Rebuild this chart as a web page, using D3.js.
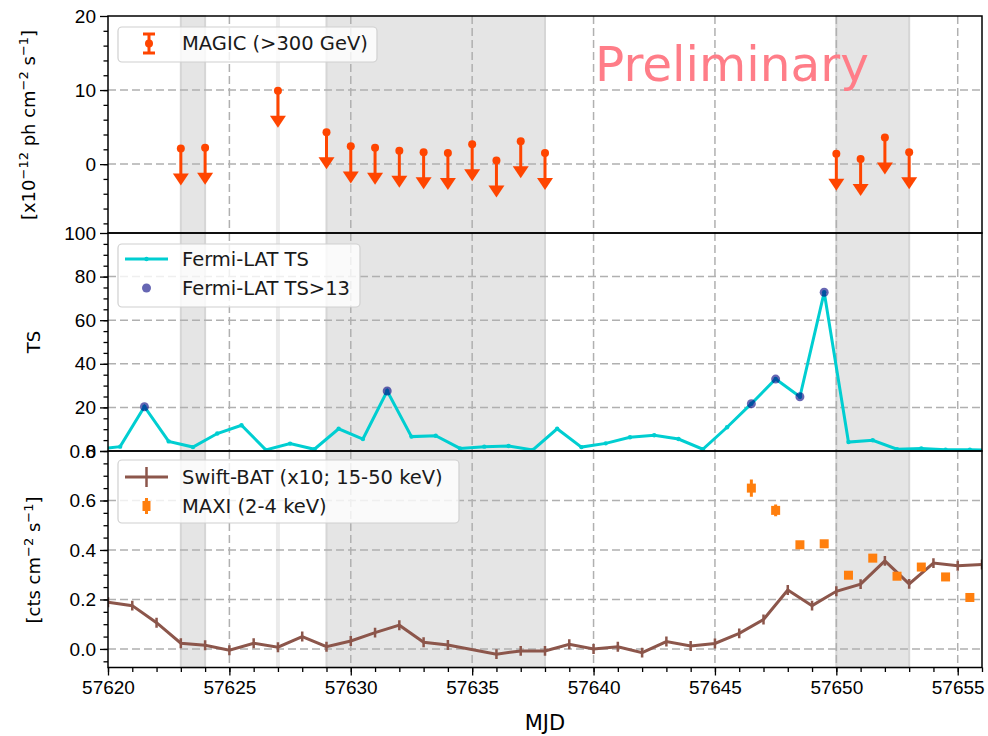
<!DOCTYPE html>
<html>
<head>
<meta charset="utf-8">
<script src="https://cdn.jsdelivr.net/npm/d3@7"></script>
<style>
body { margin: 0; background: #fff; }
svg { font-family: "DejaVu Sans", sans-serif; }
.grid line { stroke: #b0b0b0; stroke-width: 1.5; stroke-dasharray: 8,4; }
.axis text { font-size: 19px; fill: #000; }
.axis line { stroke: #000; stroke-width: 1.3; }
.axis .domain { display: none; }
.leg { font-size: 19.5px; fill: #1a1a1a; }
</style>
</head>
<body>
<svg width="988" height="736"></svg>
<script>
// MAGIC upper limits (x10^-12 ph cm^-2 s^-1)
var magicDays = [57623, 57624, 57627, 57629, 57630, 57631, 57632, 57633, 57634, 57635, 57636, 57637, 57638, 57650, 57651, 57652, 57653];
var magicUL   = [2.1, 2.2, 9.9, 4.3, 2.4, 2.2, 1.8, 1.6, 1.5, 2.7, 0.5, 3.1, 1.5, 1.4, 0.7, 3.6, 1.6];

// Fermi-LAT TS, daily bins
var fermiDays = [57619.5, 57620.5, 57621.5, 57622.5, 57623.5, 57624.5, 57625.5, 57626.5, 57627.5, 57628.5, 57629.5,
                 57630.5, 57631.5, 57632.5, 57633.5, 57634.5, 57635.5, 57636.5, 57637.5, 57638.5, 57639.5,
                 57640.5, 57641.5, 57642.5, 57643.5, 57644.5, 57645.5, 57646.5, 57647.5, 57648.5, 57649.5,
                 57650.5, 57651.5, 57652.5, 57653.5, 57654.5, 57655.5, 57656.5];
var fermiTS   = [0.8, 2.0, 20.3, 4.4, 1.8, 8.0, 11.8, 0.5, 3.4, 0.8, 10.2,
                 5.5, 27.5, 6.6, 7.0, 1.2, 2.0, 2.3, 0.5, 10.2, 1.8,
                 3.5, 6.3, 7.2, 5.5, 0.8, 10.9, 21.7, 33.0, 24.9, 72.8,
                 4.1, 4.9, 0.8, 1.2, 0.6, 0.6, 0.4];
var sigDays = [57621.5, 57631.5, 57646.5, 57647.5, 57648.5, 57649.5];
var sigTS   = [20.3, 27.5, 21.7, 33.0, 24.9, 72.8];

// Swift-BAT (x10) rate
var batDays = [57620, 57621, 57622, 57623, 57624, 57625, 57626, 57627, 57628, 57629, 57630, 57631, 57632, 57633, 57634,
               57636, 57637, 57638, 57639, 57640, 57641, 57642, 57643, 57644, 57645, 57646, 57647, 57648, 57649,
               57650, 57651, 57652, 57653, 57654, 57655, 57656];
var batRate = [0.189, 0.175, 0.106, 0.023, 0.015, -0.005, 0.023, 0.007, 0.05, 0.009, 0.032, 0.066, 0.096, 0.027, 0.016,
               -0.021, -0.008, -0.008, 0.019, 0.0, 0.009, -0.015, 0.03, 0.012, 0.022, 0.063, 0.119, 0.238, 0.175,
               0.233, 0.262, 0.356, 0.263, 0.347, 0.336, 0.341];
var batErr = 0.02;

// MAXI rate
var maxiDays = [57646.5, 57647.5, 57648.5, 57649.5, 57650.5, 57651.5, 57652.5, 57653.5, 57654.5, 57655.5];
var maxiRate = [0.650, 0.560, 0.421, 0.425, 0.298, 0.367, 0.294, 0.331, 0.291, 0.208];
var maxiErr  = [0.035, 0.024, 0.012, 0.012, 0.01, 0.01, 0.01, 0.01, 0.01, 0.01];

// MAGIC observation windows
var spanStart = [57623, 57629, 57650];
var spanEnd   = [57624, 57638, 57653];
var markDays  = [57627];

// ticks
var xTicks = [57620, 57625, 57630, 57635, 57640, 57645, 57650, 57655];
var xMinor = d3.range(57620, 57657, 1);
var magicTicks = [0, 10, 20];
var magicMinor = d3.range(-8, 20, 2);
var tsTicks = [0, 20, 40, 60, 80, 100];
var tsMinor = d3.range(0, 100, 5);
var rateTicks = [0.0, 0.2, 0.4, 0.6, 0.8];
var rateMinor = d3.range(-0.05, 0.8, 0.05);

var svg = d3.select("svg");
var left = 108, right = 982;

var x = d3.scaleLinear().domain([57620, 57656]).range([left, right]);

var yMagic = d3.scaleLinear().domain([-9.3, 20]).range([233, 16]);
var yTS    = d3.scaleLinear().domain([0, 100]).range([451, 233]);
var yRate  = d3.scaleLinear().domain([-0.075, 0.8]).range([667.5, 451]);

var red = "#ff4500", cyan = "#00ced1", brown = "#8c564b", orange = "#ff7f0e";

// one panel: spans, grid, axes, clip
function panel(name, y, major, minor, fmt) {
    var top = y.range()[1], bot = y.range()[0];
    var g = svg.append("g").attr("class", "panel " + name);

    g.append("clipPath").attr("id", "clip-" + name)
        .append("rect")
        .attr("x", left).attr("y", top)
        .attr("width", right - left).attr("height", bot - top);

    g.selectAll("rect.span")
        .data(spanStart)
        .enter().append("rect")
        .attr("class", "span")
        .attr("x", function(d) { return x(d); })
        .attr("y", top)
        .attr("width", function(d, i) { return x(spanEnd[i]) - x(d); })
        .attr("height", bot - top)
        .attr("fill", "#e5e5e5")
        .attr("stroke", "#d6d6d6")
        .attr("stroke-width", 2);

    g.selectAll("line.mark")
        .data(markDays)
        .enter().append("line")
        .attr("class", "mark")
        .attr("x1", function(d) { return x(d); })
        .attr("x2", function(d) { return x(d); })
        .attr("y1", top).attr("y2", bot)
        .attr("stroke", "#ebebeb")
        .attr("stroke-width", 4);

    //grid
    var grid = g.append("g").attr("class", "grid");
    grid.selectAll("line.gx")
        .data(xTicks.filter(function(d) { return d > 57620; }))
        .enter().append("line")
        .attr("x1", function(d) { return x(d); })
        .attr("x2", function(d) { return x(d); })
        .attr("y1", top).attr("y2", bot);
    grid.selectAll("line.gy")
        .data(major.filter(function(d) { return y(d) > top + 1 && y(d) < bot - 1; }))
        .enter().append("line")
        .attr("x1", left).attr("x2", right)
        .attr("y1", function(d) { return y(d); })
        .attr("y2", function(d) { return y(d); });

    //axis
    g.append("g")
        .attr("class", "axis")
        .attr("transform", "translate(" + left + ",0)")
        .call(d3.axisLeft(y).tickValues(minor).tickSize(4.5).tickFormat(""));
    g.append("g")
        .attr("class", "axis")
        .attr("transform", "translate(" + left + ",0)")
        .call(d3.axisLeft(y).tickValues(major).tickSize(8).tickPadding(4).tickFormat(fmt));

    return g;
}

var gMagic = panel("magic", yMagic, magicTicks, magicMinor, d3.format("d"));
var gTS    = panel("ts", yTS, tsTicks, tsMinor, d3.format("d"));
var gRate  = panel("rate", yRate, rateTicks, rateMinor, d3.format(".1f"));

// MAGIC upper limits
var ul = gMagic.append("g").attr("clip-path", "url(#clip-magic)");
ul.selectAll("line.ul")
    .data(magicDays)
    .enter().append("line")
    .attr("x1", function(d) { return x(d); })
    .attr("x2", function(d) { return x(d); })
    .attr("y1", function(d, i) { return yMagic(magicUL[i]); })
    .attr("y2", function(d, i) { return yMagic(magicUL[i] - 5) - 6; })
    .attr("stroke", red)
    .attr("stroke-width", 3);
ul.selectAll("path.head")
    .data(magicDays)
    .enter().append("path")
    .attr("d", function(d, i) {
        var cx = x(d), tip = yMagic(magicUL[i] - 5);
        return "M" + (cx - 8) + "," + (tip - 12) + "L" + (cx + 8) + "," + (tip - 12) + "L" + cx + "," + tip + "Z";
    })
    .attr("fill", red);
ul.selectAll("circle")
    .data(magicDays)
    .enter().append("circle")
    .attr("cx", function(d) { return x(d); })
    .attr("cy", function(d, i) { return yMagic(magicUL[i]); })
    .attr("r", 4)
    .attr("fill", red);

// Fermi TS
var line = d3.line()
    .x(function(d, i) { return x(fermiDays[i]); })
    .y(function(d) { return yTS(d); });
var fl = gTS.append("g").attr("clip-path", "url(#clip-ts)");
fl.append("path")
    .datum(fermiTS)
    .attr("d", line)
    .attr("fill", "none")
    .attr("stroke", cyan)
    .attr("stroke-width", 3);
fl.selectAll("circle.pt")
    .data(fermiTS)
    .enter().append("circle")
    .attr("cx", function(d, i) { return x(fermiDays[i]); })
    .attr("cy", function(d) { return yTS(d); })
    .attr("r", 2.2)
    .attr("fill", cyan);
fl.selectAll("circle.sig")
    .data(sigTS)
    .enter().append("circle")
    .attr("cx", function(d, i) { return x(sigDays[i]); })
    .attr("cy", function(d) { return yTS(d); })
    .attr("r", 4.5)
    .attr("fill", "#000080")
    .attr("fill-opacity", 0.6);

// Swift-BAT + MAXI
var bl = gRate.append("g").attr("clip-path", "url(#clip-rate)");
var batLine = d3.line()
    .x(function(d, i) { return x(batDays[i]); })
    .y(function(d) { return yRate(d); });
bl.append("path")
    .datum(batRate)
    .attr("d", batLine)
    .attr("fill", "none")
    .attr("stroke", brown)
    .attr("stroke-width", 3);
bl.selectAll("line.bat")
    .data(batRate)
    .enter().append("line")
    .attr("x1", function(d, i) { return x(batDays[i]); })
    .attr("x2", function(d, i) { return x(batDays[i]); })
    .attr("y1", function(d) { return yRate(d - batErr); })
    .attr("y2", function(d) { return yRate(d + batErr); })
    .attr("stroke", brown)
    .attr("stroke-width", 2.5);
bl.selectAll("line.maxi")
    .data(maxiRate)
    .enter().append("line")
    .attr("x1", function(d, i) { return x(maxiDays[i]); })
    .attr("x2", function(d, i) { return x(maxiDays[i]); })
    .attr("y1", function(d, i) { return yRate(d - maxiErr[i]); })
    .attr("y2", function(d, i) { return yRate(d + maxiErr[i]); })
    .attr("stroke", orange)
    .attr("stroke-width", 3);
bl.selectAll("rect.maxi")
    .data(maxiRate)
    .enter().append("rect")
    .attr("x", function(d, i) { return x(maxiDays[i]) - 4.5; })
    .attr("y", function(d) { return yRate(d) - 4.5; })
    .attr("width", 9)
    .attr("height", 9)
    .attr("fill", orange);

// frames
[yMagic, yTS, yRate].forEach(function(y) {
    svg.append("rect")
        .attr("x", left).attr("y", y.range()[1])
        .attr("width", right - left).attr("height", y.range()[0] - y.range()[1])
        .attr("fill", "none")
        .attr("stroke", "#000")
        .attr("stroke-width", 1.5);
});

// x axis
svg.append("g")
    .attr("class", "axis")
    .attr("transform", "translate(0," + yRate.range()[0] + ")")
    .call(d3.axisBottom(x).tickValues(xMinor).tickSize(4.5).tickFormat(""));
svg.append("g")
    .attr("class", "axis")
    .attr("transform", "translate(0," + yRate.range()[0] + ")")
    .call(d3.axisBottom(x).tickValues(xTicks).tickSize(8).tickPadding(5).tickFormat(d3.format("d")));

svg.append("text")
    .attr("x", (left + right) / 2)
    .attr("y", 730)
    .attr("text-anchor", "middle")
    .style("font-size", "21px")
    .text("MJD");

// y labels
function ylabel(cx, cy, parts) {
    var t = svg.append("text")
        .attr("transform", "translate(" + cx + "," + cy + ")rotate(-90)")
        .attr("text-anchor", "middle")
        .style("font-size", "18px");
    parts.forEach(function(p) {
        if (p[1]) {
            t.append("tspan").attr("dy", -7).style("font-size", "13px").text(p[0]);
        } else {
            t.append("tspan").attr("dy", p[2] || 0).text(p[0]);
        }
    });
}
ylabel(35, 125, [["[x10", 0], ["\u221212", 1], [" ph cm", 0, 7], ["\u22122", 1], [" s", 0, 7], ["\u22121", 1], ["]", 0, 7]]);
ylabel(40, 342, [["TS", 0]]);
ylabel(40, 560, [["[cts cm", 0], ["\u22122", 1], [" s", 0, 7], ["\u22121", 1], ["]", 0, 7]]);

// Preliminary
svg.append("text")
    .attr("x", 595)
    .attr("y", 81)
    .style("font-size", "48.5px")
    .attr("fill", "#ff7d88")
    .text("Preliminary");

// legends
function legendBox(x0, y0, w, h) {
    svg.append("rect")
        .attr("x", x0).attr("y", y0)
        .attr("width", w).attr("height", h)
        .attr("rx", 4)
        .attr("fill", "#fff").attr("fill-opacity", 0.8)
        .attr("stroke", "#d0d0d0").attr("stroke-width", 1.2);
}

legendBox(118, 27, 259, 35);
svg.append("line").attr("x1", 149).attr("x2", 149).attr("y1", 34).attr("y2", 53)
    .attr("stroke", red).attr("stroke-width", 3);
svg.append("line").attr("x1", 143).attr("x2", 155).attr("y1", 34).attr("y2", 34)
    .attr("stroke", red).attr("stroke-width", 3);
svg.append("line").attr("x1", 143).attr("x2", 155).attr("y1", 53).attr("y2", 53)
    .attr("stroke", red).attr("stroke-width", 3);
svg.append("circle").attr("cx", 149).attr("cy", 43.5).attr("r", 4).attr("fill", red);
svg.append("text").attr("class", "leg").attr("x", 182).attr("y", 50).text("MAGIC (>300 GeV)");

legendBox(118, 244, 242, 63);
svg.append("line").attr("x1", 125).attr("x2", 168).attr("y1", 259).attr("y2", 259)
    .attr("stroke", cyan).attr("stroke-width", 3);
svg.append("circle").attr("cx", 146.5).attr("cy", 259).attr("r", 2.2).attr("fill", cyan);
svg.append("text").attr("class", "leg").attr("x", 182).attr("y", 266).text("Fermi-LAT TS");
svg.append("circle").attr("cx", 146.5).attr("cy", 288).attr("r", 4.5)
    .attr("fill", "#000080").attr("fill-opacity", 0.6);
svg.append("text").attr("class", "leg").attr("x", 182).attr("y", 295).text("Fermi-LAT TS>13");

legendBox(118, 460, 341, 63);
svg.append("line").attr("x1", 125).attr("x2", 168).attr("y1", 477).attr("y2", 477)
    .attr("stroke", brown).attr("stroke-width", 3);
svg.append("line").attr("x1", 146.5).attr("x2", 146.5).attr("y1", 467).attr("y2", 487)
    .attr("stroke", brown).attr("stroke-width", 2.5);
svg.append("text").attr("class", "leg").attr("x", 182).attr("y", 484).text("Swift-BAT (x10; 15-50 keV)");
svg.append("line").attr("x1", 146.5).attr("x2", 146.5).attr("y1", 498).attr("y2", 514)
    .attr("stroke", orange).attr("stroke-width", 3);
svg.append("rect").attr("x", 142.5).attr("y", 501).attr("width", 8).attr("height", 10).attr("fill", orange);
svg.append("text").attr("class", "leg").attr("x", 182).attr("y", 513).text("MAXI (2-4 keV)");
</script>
</body>
</html>
